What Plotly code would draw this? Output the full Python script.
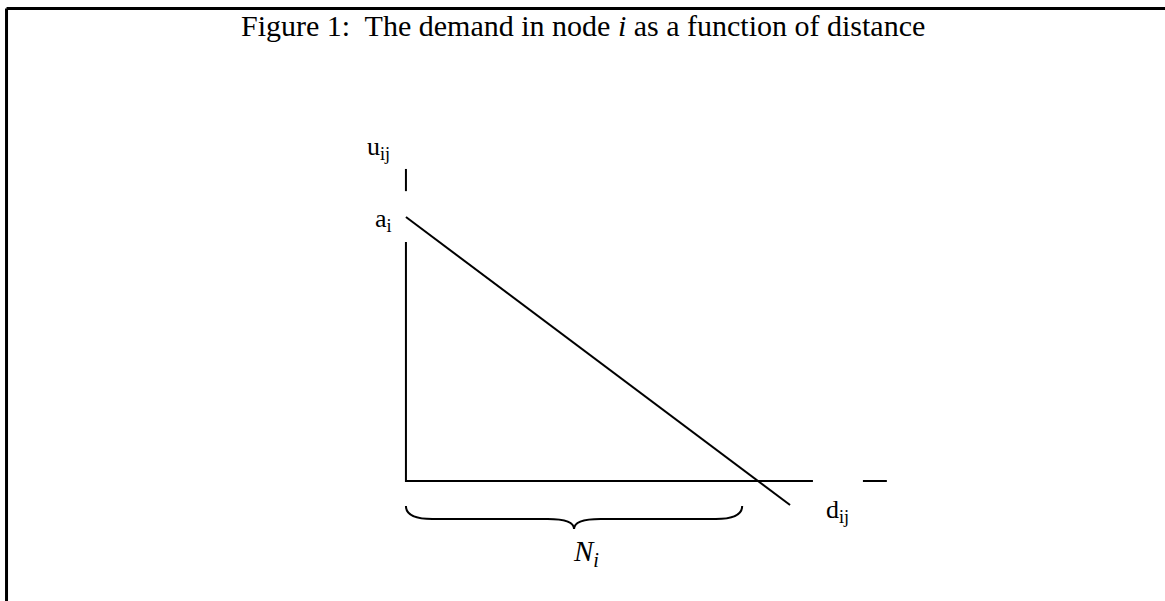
import plotly.graph_objects as go

# demand line u = a - b*d (end points)
demand_d = [0, 10.91]
demand_u = [10, -0.91]

# axes drawn as broken segments (gaps where the labels sit)
axis_x = [0, 0, None, 0, 0, 11.56, None, 12.98, 13.66]
axis_y = [11.82, 10.98, None, 9.05, 0, 0, None, 0, 0]

# brace under the distance axis
brace_from = 0
brace_to = 9.55
brace_top = -0.95
brace_flat = -1.44
brace_tip = -1.82

title_text = "Figure 1:  The demand in node <i>i</i> as a function of distance"
label_text = ["u<sub>ij</sub>", "a<sub>i</sub>", "d<sub>ij</sub>", "<i>N<sub>i</sub></i>"]
label_size = [26, 26, 26, 29]
label_x = [-0.77, -0.65, 12.27, 5.11]
label_y = [12.6, 9.88, -1.14, -2.73]

FONT = "Liberation Serif, Times New Roman, serif"

fig = go.Figure()
fig.add_trace(go.Scatter(x=axis_x, y=axis_y, mode="lines",
                         line=dict(color="black", width=2), hoverinfo="skip"))
fig.add_trace(go.Scatter(x=demand_d, y=demand_u, mode="lines",
                         line=dict(color="black", width=2), hoverinfo="skip"))

mid = (brace_from + brace_to) / 2
q = 0.75
brace_path = (
    f"M {brace_from},{brace_top} Q {brace_from},{brace_flat} {brace_from + q},{brace_flat} "
    f"L {mid - q},{brace_flat} Q {mid},{brace_flat} {mid},{brace_tip} "
    f"Q {mid},{brace_flat} {mid + q},{brace_flat} "
    f"L {brace_to - q},{brace_flat} Q {brace_to},{brace_flat} {brace_to},{brace_top}"
)
fig.add_shape(type="path", path=brace_path, xref="x", yref="y",
              line=dict(color="black", width=2))

for t, x, y, s in zip(label_text, label_x, label_y, label_size):
    fig.add_annotation(x=x, y=y, text=t, showarrow=False,
                       font=dict(family=FONT, size=s, color="black"))

fig.add_annotation(x=0.5, y=0.957, xref="paper", yref="paper", text=title_text,
                   showarrow=False, xanchor="center", yanchor="middle",
                   font=dict(family=FONT, size=30, color="black"))

# frame: top and left edges only
fig.add_shape(type="line", xref="paper", yref="paper", x0=0.0056, x1=1, y0=0.986, y1=0.986,
              line=dict(color="black", width=3))
fig.add_shape(type="line", xref="paper", yref="paper", x0=0.0056, x1=0.0056, y0=0, y1=0.986,
              line=dict(color="black", width=3))

fig.update_layout(
    width=1165, height=601,
    margin=dict(l=0, r=0, t=0, b=0),
    paper_bgcolor="white", plot_bgcolor="white",
    showlegend=False,
    xaxis=dict(range=[-11.53, 21.56], visible=False, fixedrange=True),
    yaxis=dict(range=[-4.545, 18.22], visible=False, fixedrange=True),
)

# page has an 8px body margin by default, drop it so the figure sits at 0,0
fig.write_html("out.html", config={"displayModeBar": False},
               post_script="document.body.style.margin='0';")
